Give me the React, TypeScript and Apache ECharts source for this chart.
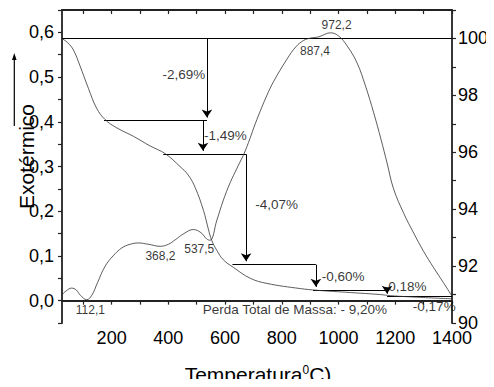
import React, { useEffect, useRef } from "react";
import * as echarts from "echarts";

const FONT = "Liberation Sans, Arial, sans-serif";

// DTA curve (left axis)
const dtaTemp = [25, 40, 59, 75, 90, 112, 130, 150, 177, 205, 236, 265, 294, 330, 371, 400, 424, 455, 488, 515, 535, 547, 571, 594, 618, 641, 671, 712, 748, 771, 818, 850, 877, 900, 930, 972, 1000, 1030, 1065, 1095, 1124, 1150, 1171, 1194, 1230, 1265, 1300, 1336, 1370, 1400];
const dtaValue = [0.013, 0.022, 0.028, 0.024, 0.012, 0.002, 0.012, 0.04, 0.077, 0.1, 0.118, 0.126, 0.129, 0.126, 0.1215, 0.126, 0.136, 0.15, 0.159, 0.152, 0.138, 0.135, 0.18, 0.225, 0.264, 0.295, 0.335, 0.405, 0.46, 0.49, 0.54, 0.568, 0.582, 0.587, 0.59, 0.599, 0.592, 0.57, 0.532, 0.48, 0.42, 0.36, 0.308, 0.25, 0.195, 0.151, 0.11, 0.073, 0.04, 0.01];

// TG curve (right axis, mass %)
const tgTemp = [25, 45, 65, 88, 118, 147, 177, 218, 277, 336, 389, 441, 470, 495, 524, 541, 553, 571, 594, 630, 689, 748, 865, 924, 1042, 1147, 1183, 1290, 1400];
const tgValue = [100, 99.85, 99.6, 99.05, 98.25, 97.55, 97.15, 96.86, 96.56, 96.22, 95.95, 95.5, 95.2, 94.75, 93.95, 93.3, 92.9, 92.55, 92.22, 91.95, 91.57, 91.39, 91.21, 91.15, 91.07, 91.0, 90.96, 90.9, 90.85];

// Annotation segments (right axis): [t1, v1, t2, v2]
const stepLines = [
  [25, 100, 1400, 100],
  [173, 97.11, 536, 97.11],
  [382, 95.93, 674, 95.93],
  [626, 92.05, 920, 92.05],
  [910, 91.15, 1171, 91.15],
  [1171, 90.94, 1400, 90.94],
];
const arrowLines = [
  [536, 100, 536, 97.22],
  [522, 97.1, 522, 96.05],
  [674, 95.93, 674, 92.17],
  [920, 92.05, 920, 91.27],
  [1171, 91.15, 1171, 91.03],
];

// Mass-loss labels (right axis)
const lossText = ["-2,69%", "-1,49%", "-4,07%", "-0,60%", "-0,18%", "-0,17%", "Perda Total de Massa: - 9,20%"];
const lossTemp = [530, 526, 706, 941, 1159, 1262, 521];
const lossValue = [98.74, 96.6, 94.17, 91.64, 91.29, 90.59, 90.47];
const lossAlign = ["right", "left", "left", "left", "left", "left", "left"];

// Peak labels (left axis)
const peakText = ["972,2", "887,4", "368,2", "537,5", "112,1"];
const peakTemp = [993, 917, 372, 509, 125];
const peakValue = [0.617, 0.558, 0.099, 0.1157, -0.02];

// Axis ticks / labels
const xTicks = [100, 200, 300, 400, 500, 600, 700, 800, 900, 1000, 1100, 1200, 1300, 1400];
const xLabels = [200, 400, 600, 800, 1000, 1200, 1400];
const yLeftTicks = [-0.05, 0, 0.05, 0.1, 0.15, 0.2, 0.25, 0.3, 0.35, 0.4, 0.45, 0.5, 0.55, 0.6, 0.65];
const yLeftLabels = [0, 0.1, 0.2, 0.3, 0.4, 0.5, 0.6];
const yRightTicks = [90, 91, 92, 93, 94, 95, 96, 97, 98, 99, 100, 101];
const yRightLabels = [90, 92, 94, 96, 98, 100];

const AXIS_COLOR = "#222";

export default function App() {
  const ref = useRef<HTMLDivElement>(null);
  useEffect(() => {
    if (!ref.current) return;
    const chart = echarts.init(ref.current, null, { renderer: "svg" });
    const axisLine = { show: true, lineStyle: { color: AXIS_COLOR, width: 1.8 } };
    const option: any = {
      animation: false,
      backgroundColor: "#fff",
      textStyle: { fontFamily: FONT },
      grid: { left: 62, right: 42, top: 10, bottom: 64, containLabel: false, outerBoundsMode: "none" },
      xAxis: [
        {
          type: "value",
          min: 25,
          max: 1400,
          position: "bottom",
          axisLine,
          axisTick: { show: true, inside: false, length: 4, customValues: xTicks, lineStyle: { color: AXIS_COLOR, width: 1.2 } },
          axisLabel: {
            customValues: xLabels,
            fontSize: 18,
            color: "#000",
            margin: 6,
            fontFamily: FONT,
            formatter: (v: number) => String(v),
          },
          splitLine: { show: false },
        },
        {
          type: "value",
          min: 25,
          max: 1400,
          position: "top",
          axisLine,
          axisTick: { show: true, inside: true, length: 4, customValues: xTicks, lineStyle: { color: AXIS_COLOR, width: 1.2 } },
          axisLabel: { show: false },
          splitLine: { show: false },
        },
      ],
      yAxis: [
        {
          type: "value",
          min: -0.05,
          max: 0.65,
          position: "left",
          axisLine,
          axisTick: { show: true, inside: false, length: 4, customValues: yLeftTicks, lineStyle: { color: AXIS_COLOR, width: 1.2 } },
          axisLabel: {
            customValues: yLeftLabels,
            fontSize: 18,
            color: "#000",
            margin: 8,
            fontFamily: FONT,
            formatter: (v: number) => v.toFixed(1).replace(".", ","),
          },
          splitLine: { show: false },
        },
        {
          type: "value",
          min: 90,
          max: 101,
          position: "right",
          axisLine,
          axisTick: { show: true, inside: false, length: 4, customValues: yRightTicks, lineStyle: { color: AXIS_COLOR, width: 1.2 } },
          axisLabel: {
            customValues: yRightLabels,
            fontSize: 18,
            color: "#000",
            margin: 6,
            fontFamily: FONT,
            formatter: (v: number) => String(v),
          },
          splitLine: { show: false },
        },
      ],
      series: [
        {
          type: "line",
          name: "DTA",
          xAxisIndex: 0,
          yAxisIndex: 0,
          data: dtaTemp.map((t, i) => [t, dtaValue[i]]),
          smooth: 0.4,
          showSymbol: false,
          symbol: "none",
          lineStyle: { color: "#333", width: 0.8 },
          silent: true,
        },
        {
          type: "line",
          name: "TG",
          xAxisIndex: 0,
          yAxisIndex: 1,
          data: tgTemp.map((t, i) => [t, tgValue[i]]),
          smooth: 0.4,
          showSymbol: false,
          symbol: "none",
          lineStyle: { color: "#333", width: 0.8 },
          silent: true,
        },
        {
          type: "lines",
          coordinateSystem: "cartesian2d",
          xAxisIndex: 0,
          yAxisIndex: 1,
          symbol: ["none", "none"],
          lineStyle: { color: "#000", width: 1, opacity: 1 },
          data: stepLines.map((s) => ({ coords: [[s[0], s[1]], [s[2], s[3]]] })),
          silent: true,
        },
        {
          type: "lines",
          coordinateSystem: "cartesian2d",
          xAxisIndex: 0,
          yAxisIndex: 1,
          symbol: ["none", "arrow"],
          symbolSize: [5, 8],
          lineStyle: { color: "#000", width: 1, opacity: 1 },
          data: arrowLines.map((s) => ({ coords: [[s[0], s[1]], [s[2], s[3]]] })),
          silent: true,
        },
        {
          type: "scatter",
          xAxisIndex: 0,
          yAxisIndex: 1,
          symbolSize: 0,
          silent: true,
          data: lossText.map((txt, i) => ({
            name: txt,
            value: [lossTemp[i], lossValue[i]],
            label: {
              show: true,
              position: lossAlign[i] === "right" ? "left" : "right",
              distance: 0,
              formatter: txt,
              fontSize: 13.5,
              color: "#000",
              fontFamily: FONT,
            },
          })),
        },
        {
          type: "scatter",
          xAxisIndex: 0,
          yAxisIndex: 0,
          symbolSize: 0,
          silent: true,
          data: peakText.map((txt, i) => ({
            name: txt,
            value: [peakTemp[i], peakValue[i]],
            label: {
              show: true,
              position: "inside",
              formatter: txt,
              fontSize: 12,
              color: "#000",
              fontFamily: FONT,
            },
          })),
        },
      ],
      graphic: [
        {
          type: "text",
          x: 258,
          y: 374,
          style: {
            text: "{a|Temperatura}{s|0}{a|C)}",
            align: "center",
            verticalAlign: "middle",
            fill: "#000",
            rich: {
              a: { fontSize: 21, fontFamily: FONT, fill: "#000", verticalAlign: "bottom", lineHeight: 21 },
              s: { fontSize: 12, fontFamily: FONT, fill: "#000", verticalAlign: "top", lineHeight: 21 },
            },
          },
        },
        {
          type: "text",
          x: 26,
          y: 156.5,
          rotation: Math.PI / 2,
          style: {
            text: "Exotérmico",
            fontSize: 21,
            fontFamily: FONT,
            fill: "#000",
            align: "center",
            verticalAlign: "middle",
          },
        },
        {
          type: "line",
          shape: { x1: 14.3, y1: 126, x2: 14.3, y2: 57 },
          style: { stroke: "#000", lineWidth: 1.2 },
        },
        {
          type: "polygon",
          shape: { points: [[12, 60], [16.6, 60], [14.3, 53]] },
          style: { fill: "#000" },
        },
      ],
    };
    chart.setOption(option);
    return () => chart.dispose();
  }, []);
  return <div ref={ref} style={{ width: 494, height: 387, margin: -8 }} />;
}
